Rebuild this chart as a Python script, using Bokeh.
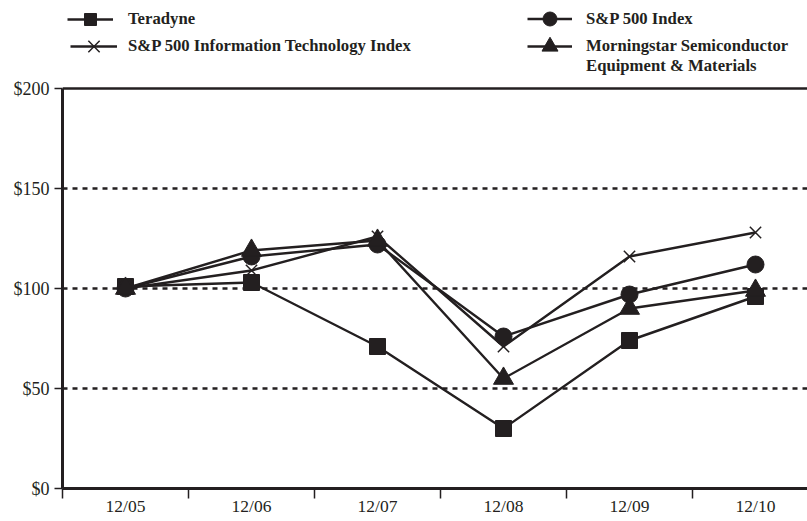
from bokeh.plotting import figure
from bokeh.models import (FixedTicker, NumeralTickFormatter, Span, Legend, LegendItem, Range1d)
from bokeh.embed import file_html
from bokeh.resources import INLINE

# ---- data ----
years = ["12/05", "12/06", "12/07", "12/08", "12/09", "12/10"]
teradyne = [101, 103, 71, 30, 74, 96]
sp500 = [100, 116, 122, 76, 97, 112]
sp500_it = [100, 109, 126, 71, 116, 128]
morningstar = [100, 119, 124, 55, 90, 99]
y_ticks = [0, 50, 100, 150, 200]
grid_ticks = [50, 100, 150]

INK = "#231f20"
FONT = "Liberation Serif"

xs = list(range(len(years)))

W, H = 807, 521
LEFT, BOTTOM = 62, 33
LEGEND_H = 88                     # room above the $200 line for the legend
FRAME_H = H - BOTTOM
FRAME_W = W - LEFT
PX_PER_CAT = 126
PX_PER_USD = (FRAME_H - LEGEND_H) / y_ticks[-1]

p = figure(width=W, height=H, output_backend="svg", toolbar_location=None,
           x_range=Range1d(-0.5, -0.5 + FRAME_W / PX_PER_CAT),
           y_range=Range1d(0, FRAME_H / PX_PER_USD),
           min_border_left=LEFT, min_border_right=0, min_border_top=0, min_border_bottom=BOTTOM)
p.outline_line_color = None
p.background_fill_color = "white"
p.border_fill_color = "white"

# axes
p.yaxis.bounds = (y_ticks[0], y_ticks[-1])
p.yaxis.ticker = FixedTicker(ticks=y_ticks, minor_ticks=[])
p.yaxis.formatter = NumeralTickFormatter(format="$0")
p.yaxis.axis_line_width = 3
p.yaxis.axis_line_color = INK
p.yaxis.major_tick_out = 8
p.yaxis.major_tick_in = 0
p.yaxis.major_tick_line_width = 1.5
p.yaxis.major_tick_line_color = INK
p.yaxis.major_label_standoff = 5
p.yaxis.major_label_text_font = FONT
p.yaxis.major_label_text_font_size = "18px"
p.yaxis.major_label_text_color = INK

p.xaxis.ticker = FixedTicker(ticks=xs, minor_ticks=[i - 0.5 for i in xs] + [len(xs) - 0.5])
p.xaxis.major_label_overrides = {i: y for i, y in enumerate(years)}
p.xaxis.axis_line_width = 3
p.xaxis.axis_line_color = INK
p.xaxis.major_tick_out = 0
p.xaxis.major_tick_in = 0
p.xaxis.minor_tick_out = 10
p.xaxis.minor_tick_in = 0
p.xaxis.minor_tick_line_width = 1.5
p.xaxis.minor_tick_line_color = INK
p.xaxis.major_label_standoff = -3
p.xaxis.major_label_text_font = FONT
p.xaxis.major_label_text_font_size = "17.5px"
p.xaxis.major_label_text_color = INK

# grid
p.xgrid.visible = False
p.ygrid.ticker = FixedTicker(ticks=grid_ticks)
p.ygrid.grid_line_color = INK
p.ygrid.grid_line_width = 2.5
p.ygrid.grid_line_dash = "5 5"
p.add_layout(Span(location=y_ticks[-1], dimension="width", line_color=INK, line_width=2.5))

# series: name, values, marker, plot marker size, legend glyph height (legend marker = 0.4*min(w,h))
series = [
    ("Teradyne", teradyne, "square", 16, 30),
    ("S&P 500 Index", sp500, "circle", 17, 35),
    ("S&P 500 Information Technology Index", sp500_it, "x", 16, 40),
    ("Morningstar Semiconductor", morningstar, "triangle", 20, 40),
]
items = {}
for name, vals, marker, size, gh in series:
    lr = p.line(xs, vals, line_color=INK, line_width=2.4)
    if marker == "x":
        sr = p.scatter(xs, vals, marker=marker, size=size, line_color=INK, line_width=1.5)
    else:
        sr = p.scatter(xs, vals, marker=marker, size=size, fill_color=INK, line_color=INK)
    items[name] = ([lr, sr], gh)

dummy = p.line([], [], line_alpha=0)
items["Equipment & Materials"] = ([dummy], 20)

# legend placement: glyph left x and row centre y, in page px
leg_specs = [
    ("Teradyne", 67, 19, 46, 15),
    ("S&P 500 Information Technology Index", 70, 46, 47, 11),
    ("S&P 500 Index", 527, 19, 45, 14),
    ("Morningstar Semiconductor", 527, 46, 45, 14),
    ("Equipment & Materials", 527, 66, 45, 14),
]
for name, gx, cy, gw, so in leg_specs:
    rends, gh = items[name]
    loc_y = FRAME_H - cy - gh / 2
    leg = Legend(items=[LegendItem(label=name, renderers=rends)],
                 location=(int(gx - LEFT), int(round(loc_y))),
                 padding=0, margin=0, spacing=0,
                 glyph_width=gw, glyph_height=gh, label_standoff=so,
                 label_text_font=FONT, label_text_font_style="bold",
                 label_text_font_size="16.7px", label_text_color=INK,
                 border_line_color=None, background_fill_alpha=0)
    p.add_layout(leg, "center")

open("out.html", "w").write(file_html(p, INLINE))
